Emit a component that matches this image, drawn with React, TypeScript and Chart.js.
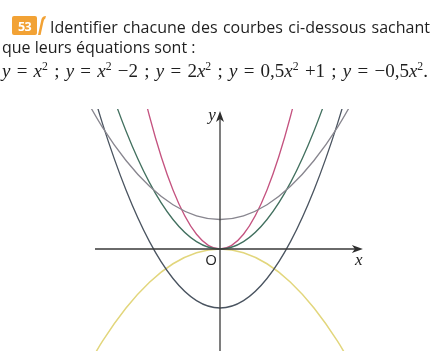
import React, { useEffect, useRef } from "react";
import { Chart, registerables } from "chart.js";

Chart.register(...registerables);

// Sample abscissas and curve values (from the equations printed above the graph)
const X_VALUES = [-3, -2.5, -2, -1.5, -1, -0.5, 0, 0.5, 1, 1.5, 2, 2.5, 3];
const Y_X2 = [9, 6.25, 4, 2.25, 1, 0.25, 0, 0.25, 1, 2.25, 4, 6.25, 9];
const Y_X2_MINUS_2 = [7, 4.25, 2, 0.25, -1, -1.75, -2, -1.75, -1, 0.25, 2, 4.25, 7];
const Y_2X2 = [18, 12.5, 8, 4.5, 2, 0.5, 0, 0.5, 2, 4.5, 8, 12.5, 18];
const Y_HALF_X2_PLUS_1 = [5.5, 4.125, 3, 2.125, 1.5, 1.125, 1, 1.125, 1.5, 2.125, 3, 4.125, 5.5];
const Y_MINUS_HALF_X2 = [-4.5, -3.125, -2, -1.125, -0.5, -0.125, 0, -0.125, -0.5, -1.125, -2, -3.125, -4.5];

const SERIES_NAMES = ["y = 0,5x² + 1", "y = x²", "y = x² − 2", "y = 2x²", "y = −0,5x²"];
const SERIES_VALUES = [Y_HALF_X2_PLUS_1, Y_X2, Y_X2_MINUS_2, Y_2X2, Y_MINUS_HALF_X2];
const SERIES_COLORS = ["#88868f", "#42705f", "#4a5460", "#c4527f", "#e2d67c"];

const X_MIN = -220 / 47;
const X_MAX = 215 / 47;
const Y_MIN = -(351 - 249) / 29.5;
const Y_MAX = (249 - 109) / 29.5;

const axesPlugin = {
  id: "mathAxes",
  afterDatasetsDraw(chart: any) {
    const ctx = chart.ctx as CanvasRenderingContext2D;
    const xs = chart.scales.x;
    const ys = chart.scales.y;
    const ox = xs.getPixelForValue(0);
    const oy = ys.getPixelForValue(0);
    const xl = xs.getPixelForValue(-2.66);
    const xr = xs.getPixelForValue(3.04);
    const yt = ys.getPixelForValue(4.68);
    const yb = chart.height;
    ctx.save();
    ctx.strokeStyle = "#3a3a3a";
    ctx.fillStyle = "#2e2e2e";
    ctx.lineWidth = 1.3;
    ctx.beginPath();
    ctx.moveTo(xl, oy);
    ctx.lineTo(xr - 4, oy);
    ctx.moveTo(ox, yb);
    ctx.lineTo(ox, yt + 4);
    ctx.stroke();
    // arrowheads
    ctx.beginPath();
    ctx.moveTo(xr, oy);
    ctx.lineTo(xr - 11, oy - 4);
    ctx.lineTo(xr - 8, oy);
    ctx.lineTo(xr - 11, oy + 4);
    ctx.closePath();
    ctx.fill();
    ctx.beginPath();
    ctx.moveTo(ox, yt);
    ctx.lineTo(ox - 4, yt + 11);
    ctx.lineTo(ox, yt + 8);
    ctx.lineTo(ox + 4, yt + 11);
    ctx.closePath();
    ctx.fill();
    // labels
    ctx.fillStyle = "#222";
    ctx.textAlign = "center";
    ctx.textBaseline = "alphabetic";
    ctx.font = '15px "Open Sans"';
    ctx.fillText("O", ox - 9, oy + 16);
    ctx.font = 'italic 17px "Liberation Serif"';
    ctx.fillText("x", xr - 4, oy + 16);
    ctx.fillText("y", ox - 8, yt + 9);
    ctx.restore();
  },
};

export default function App() {
  const ref = useRef<HTMLCanvasElement>(null);
  useEffect(() => {
    if (!ref.current) return;
    const chart = new Chart(ref.current, {
      type: "line",
      data: {
        datasets: SERIES_VALUES.map((vals, i) => ({
          label: SERIES_NAMES[i],
          data: X_VALUES.map((x, j) => ({ x, y: vals[j] })),
          borderColor: SERIES_COLORS[i],
          borderWidth: i === 4 ? 1.5 : 1.3,
          pointRadius: 0,
          fill: false,
          cubicInterpolationMode: "monotone" as const,
        })),
      },
      options: {
        animation: false,
        responsive: false,
        events: [],
        layout: { padding: { top: 109, left: 0, right: 0, bottom: 0 } },
        plugins: { legend: { display: false }, tooltip: { enabled: false } },
        scales: {
          x: { type: "linear", min: X_MIN, max: X_MAX, display: false },
          y: { type: "linear", min: Y_MIN, max: Y_MAX, display: false },
        },
      },
      plugins: [axesPlugin],
    });
    return () => chart.destroy();
  }, []);

  const sup = (
    <span style={{ fontSize: "0.62em", position: "relative", top: "-0.6em", fontStyle: "normal" }}>2</span>
  );
  return (
    <div style={{ position: "absolute", left: 0, top: 0, width: 435, height: 351, background: "#fff", overflow: "hidden" }}>
      <canvas ref={ref} width={435} height={351} style={{ position: "absolute", left: 0, top: 0 }} />
      <svg width={52} height={42} style={{ position: "absolute", left: 0, top: 0 }}>
        <rect x={12} y={16} width={25} height={19} rx={2} fill="#f2a235" />
        <path d="M38 35 L41.5 19 Q42.5 16 46 16 L45.3 18.5 Q43.8 19 43.4 22 L40.6 35 Z" fill="#f2a235" />
        <text x={24.5} y={30.5} textAnchor="middle" fill="#fff" fontFamily="Open Sans" fontWeight="bold" fontSize={12.5} letterSpacing={-0.6}>53</text>
      </svg>
      <div style={{ position: "absolute", left: 50, top: 17, width: 380, font: '16px "Open Sans"', lineHeight: "20px", color: "#1e1e1e", textAlign: "justify", textAlignLast: "justify" }}>
        Identifier chacune des courbes ci-dessous sachant
      </div>
      <div style={{ position: "absolute", left: 2, top: 37, font: '16px "Open Sans"', lineHeight: "20px", color: "#1e1e1e", whiteSpace: "nowrap" }}>
        que leurs équations sont :
      </div>
      <div style={{ position: "absolute", left: 2, top: 60, width: 426, font: '19px "Liberation Serif"', lineHeight: "22px", color: "#1e1e1e", textAlign: "justify", textAlignLast: "justify" }}>
        <i>y</i> = <i>x</i>{sup} ; <i>y</i> = <i>x</i>{sup} −2 ; <i>y</i> = 2<i>x</i>{sup} ; <i>y</i> = 0,5<i>x</i>{sup} +1 ; <i>y</i> = −0,5<i>x</i>{sup}.
      </div>
    </div>
  );
}
